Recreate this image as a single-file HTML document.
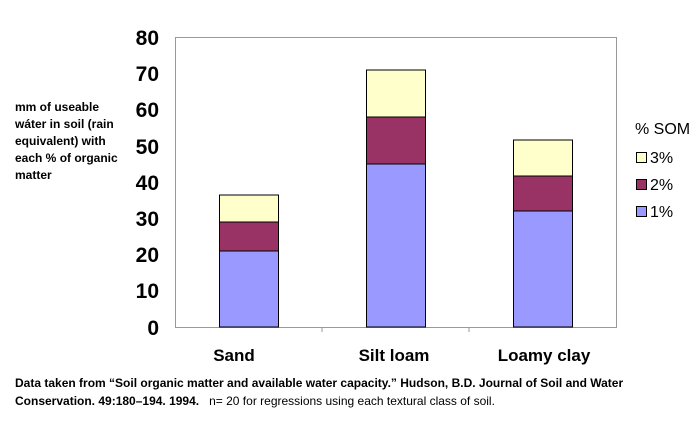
<!DOCTYPE html>
<html><head><style>
body{margin:0;width:700px;height:426px;background:#fff;overflow:hidden;font-family:"Liberation Sans",Arial,sans-serif}
.side{position:absolute;left:15px;top:99px;font-size:12px;font-weight:bold;line-height:17px;color:#000;width:108px}
.foot{position:absolute;left:15px;top:374px;font-size:12px;font-weight:bold;line-height:18px;color:#000}
.foot span{font-weight:normal}
</style></head><body>
<div class="side">mm of useable wáter in soil (rain equivalent) with each % of organic matter</div>
<svg width="700" height="426" style="position:absolute;left:0;top:0">
<g font-family="Liberation Sans,Arial,sans-serif" font-weight="bold" font-size="21" text-anchor="end" fill="#000">
<text x="159" y="45">80</text><text x="159" y="81">70</text><text x="159" y="117">60</text>
<text x="159" y="154">50</text><text x="159" y="190">40</text><text x="159" y="226">30</text>
<text x="159" y="262">20</text><text x="159" y="298">10</text><text x="159" y="335">0</text>
</g>
<rect x="175.5" y="37.5" width="441" height="290" fill="none" stroke="#999" stroke-width="1"/>
<line x1="322" y1="327" x2="322" y2="332" stroke="#999"/>
<line x1="469" y1="327" x2="469" y2="332" stroke="#999"/>
<g stroke="#000" stroke-width="1">
<rect x="219.5" y="251" width="59" height="76" fill="#9999ff"/>
<rect x="219.5" y="222" width="59" height="29" fill="#993366"/>
<rect x="219.5" y="195" width="59" height="27" fill="#ffffcc"/>
<rect x="366.5" y="164" width="59" height="163" fill="#9999ff"/>
<rect x="366.5" y="117" width="59" height="47" fill="#993366"/>
<rect x="366.5" y="70" width="59" height="47" fill="#ffffcc"/>
<rect x="513.5" y="211" width="59" height="116" fill="#9999ff"/>
<rect x="513.5" y="176" width="59" height="35" fill="#993366"/>
<rect x="513.5" y="140" width="59" height="36" fill="#ffffcc"/>
</g>
<g font-family="Liberation Sans,Arial,sans-serif" font-weight="bold" font-size="17" text-anchor="middle">
<text x="234" y="361">Sand</text><text x="394" y="361">Silt loam</text><text x="544" y="361">Loamy clay</text>
</g>
<g font-family="Liberation Sans,Arial,sans-serif" font-size="16">
<text x="635" y="134">% SOM</text>
<rect x="636.5" y="152.5" width="10" height="10" fill="#ffffcc" stroke="#000"/><text x="650" y="163">3%</text>
<rect x="636.5" y="179.5" width="10" height="10" fill="#993366" stroke="#000"/><text x="650" y="190">2%</text>
<rect x="636.5" y="206.5" width="10" height="10" fill="#9999ff" stroke="#000"/><text x="650" y="217">1%</text>
</g>
</svg>
<div class="foot">Data taken from “Soil organic matter and available water capacity.” Hudson, B.D. Journal of Soil and Water<br>Conservation. 49:180–194. 1994. &nbsp;&nbsp;<span>n= 20 for regressions using each textural class of soil.</span></div>
</body></html>
